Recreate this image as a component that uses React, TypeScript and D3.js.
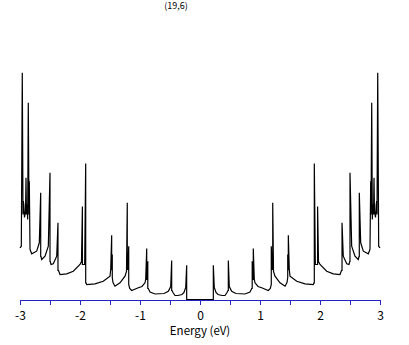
import React, { useRef, useEffect } from "react";
import * as d3 from "d3";

// density of states, positive energy half (the spectrum is mirror symmetric)
const energyPos = [
  0, 0.222, 0.222, 0.238, 0.267, 0.3, 0.367, 0.417, 0.45, 0.467,
  0.472, 0.472, 0.488, 0.528, 0.6, 0.75, 0.833, 0.862,
  0.87, 0.87, 0.876, 0.888, 0.888, 0.905, 0.917, 0.967, 1.028, 1.138, 1.172,
  1.188, 1.188, 1.2, 1.212, 1.212, 1.225, 1.25, 1.333, 1.417, 1.45,
  1.462, 1.462, 1.468, 1.472, 1.472, 1.488, 1.5, 1.612, 1.75, 1.888, 1.9,
  1.905, 1.905, 1.922, 1.96, 1.96, 1.975, 2.0, 2.112, 2.222, 2.333, 2.358,
  2.367, 2.367, 2.388, 2.445, 2.483, 2.495,
  2.5, 2.5, 2.528, 2.583, 2.638, 2.65,
  2.655, 2.655, 2.678, 2.722, 2.805, 2.833,
  2.845, 2.85, 2.862, 2.872, 2.883, 2.892, 2.9, 2.908, 2.925, 2.937, 2.945, 2.95, 2.962, 2.978, 3.0,
];
const dosPos = [
  0, 0, 0.343, 0.12, 0.07, 0.05, 0.04, 0.04, 0.07, 0.09,
  0.09, 0.39, 0.13, 0.083, 0.06, 0.055, 0.075, 0.11,
  0.11, 0.383, 0.2, 0.2, 0.51, 0.2, 0.167, 0.13, 0.117, 0.09, 0.11,
  0.15, 0.533, 0.3, 0.3, 0.967, 0.28, 0.233, 0.167, 0.133, 0.17,
  0.22, 0.45, 0.3, 0.3, 0.643, 0.3, 0.233, 0.183, 0.157, 0.15, 0.167,
  0.167, 1.36, 0.35, 0.35, 0.93, 0.38, 0.35, 0.283, 0.257, 0.25, 0.29,
  0.29, 0.767, 0.433, 0.357, 0.35, 0.38,
  0.38, 1.267, 0.533, 0.433, 0.4, 0.43,
  0.43, 1.067, 0.567, 0.483, 0.457, 0.5,
  1.183, 0.85, 1.967, 0.8, 0.95, 0.85, 1.217, 0.88, 0.82, 0.95, 0.983, 0.85, 2.267, 0.533, 0.517,
];

const tickValues = [-3, -2.5, -2, -1.5, -1, -0.5, 0, 0.5, 1, 1.5, 2, 2.5, 3];
const chartTitle = "(19,6)";
const axisTitle = "Energy (eV)";

const App = () => {
  const svgRef = useRef(null);
  const width = 409;
  const height = 345;

  useEffect(() => {
    const svg = d3.select(svgRef.current);
    svg.selectAll("*").remove();

    const x = d3.scaleLinear().domain([-3, 3]).range([20, 380]);
    const y = d3.scaleLinear().domain([0, 2.3]).range([299.5, 69.5]);

    // mirror the positive half onto negative energies
    const neg = energyPos.map((e, i) => [-e, dosPos[i]]).reverse();
    const pos = energyPos.map((e, i) => [e, dosPos[i]]).slice(1);
    const data = neg.concat(pos);

    // axis
    const axis = d3.axisBottom(x)
      .tickValues(tickValues)
      .tickSizeInner(5)
      .tickSizeOuter(0)
      .tickPadding(6)
      .tickFormat(d => (Number.isInteger(d) ? String(d) : ""));
    const g = svg.append("g")
      .attr("transform", "translate(0,300)")
      .call(axis);
    g.attr("font-family", "'Noto Sans CJK JP', 'Noto Sans', sans-serif").attr("font-size", 12);
    g.select(".domain").attr("stroke", "#2323c8");
    g.selectAll(".tick line").attr("stroke", "#2323c8");
    g.selectAll(".tick text").attr("fill", "#000");

    // curve
    const line = d3.line().x(d => x(d[0])).y(d => y(d[1]));
    svg.append("path")
      .attr("d", line(data))
      .attr("fill", "none")
      .attr("stroke", "#000")
      .attr("stroke-width", 1.2);

    svg.append("text")
      .attr("x", 200)
      .attr("y", 335)
      .attr("text-anchor", "middle")
      .attr("font-family", "'Noto Sans CJK JP', 'Noto Sans', sans-serif")
      .attr("font-size", 11.5)
      .text(axisTitle);

    svg.append("text")
      .attr("x", 176)
      .attr("y", 8.5)
      .attr("text-anchor", "middle")
      .attr("font-family", "'Noto Sans CJK JP', 'Noto Sans', sans-serif")
      .attr("font-size", 9)
      .text(chartTitle);
  }, []);

  return (
    <svg
      ref={svgRef}
      width={width}
      height={height}
      style={{ position: "absolute", left: 0, top: 0, background: "#fff" }}
    ></svg>
  );
};

export default App;
